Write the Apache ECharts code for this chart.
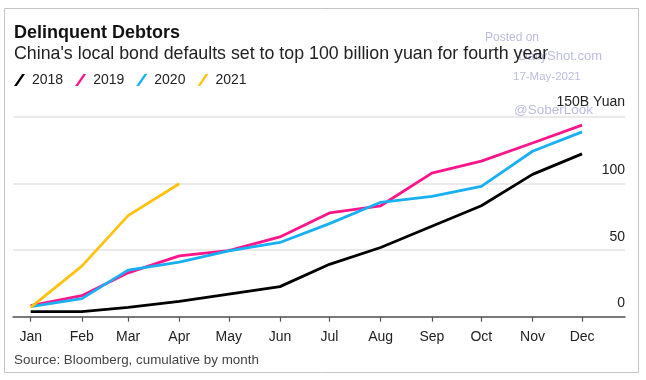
<!DOCTYPE html>
<html>
<head>
<meta charset="utf-8">
<script src="https://cdn.jsdelivr.net/npm/echarts@6/dist/echarts.min.js"></script>
<style>html,body{margin:0;padding:0;background:#fff;}#c{width:646px;height:380px;}</style>
</head>
<body>
<div id="c"></div>
<script>
const months = ['Jan','Feb','Mar','Apr','May','Jun','Jul','Aug','Sep','Oct','Nov','Dec'];
const s2018 = [3.8, 3.8, 7, 11.5, 17, 22.6, 39.4, 52, 68, 83.4, 107, 122.4];
const s2019 = [8.3, 15.8, 33, 45.7, 49.7, 60, 78, 83.4, 108, 117, 130.6, 144];
const s2020 = [7.5, 13.6, 35, 41, 49.5, 55.8, 70, 86, 90.5, 98, 124.4, 139];
const s2021 = [7, 38, 76, 100];
const yTicks = [0, 50, 100, 150];
const seriesNames = ['2018', '2019', '2020', '2021'];
const colors = ['#000000', '#ff158b', '#18b0f5', '#ffc20e'];

// day offsets of the first of each month (time scale positions)
const monthOffsets = months.map((m, i) => (Date.UTC(2021, i, 1) - Date.UTC(2021, 0, 1)) / 86400000);
const toPoints = vals => vals.map((v, i) => [monthOffsets[i], v]);

const chart = echarts.init(document.getElementById('c'));
const font = 'Liberation Sans, Arial, sans-serif';
const wm = 'rgba(150,150,210,0.65)';

chart.setOption({
  animation: false,
  textStyle: { fontFamily: font },
  color: colors,
  graphic: [
    { type: 'rect', z: 0, shape: { x: 4.5, y: 8.5, width: 634, height: 364 }, style: { fill: 'none', stroke: '#c4c4c4', lineWidth: 1 } },
    { type: 'text', z: 0, style: { x: 485, y: 38, text: 'Posted on', fill: wm, font: '12px ' + font, verticalAlign: 'middle' } },
    { type: 'text', z: 0, style: { x: 602, y: 56, text: 'DailyShot.com', fill: wm, font: '13px ' + font, align: 'right', verticalAlign: 'middle' } },
    { type: 'text', z: 0, style: { x: 513, y: 77, text: '17-May-2021', fill: wm, font: '11.5px ' + font, verticalAlign: 'middle' } },
    { type: 'text', z: 0, style: { x: 514, y: 110, text: '@SoberLook', fill: wm, font: '13.5px ' + font, verticalAlign: 'middle' } },
    { type: 'text', z: 10, style: { x: 14, y: 33, text: 'Delinquent Debtors', fill: '#111', font: 'bold 18px ' + font, verticalAlign: 'middle' } },
    { type: 'text', z: 10, style: { x: 14, y: 54, text: "China's local bond defaults set to top 100 billion yuan for fourth year", fill: '#222', font: '17.8px ' + font, verticalAlign: 'middle' } },
    { type: 'text', z: 10, style: { x: 14, y: 360, text: 'Source: Bloomberg, cumulative by month', fill: '#444', font: '13.4px ' + font, verticalAlign: 'middle' } }
  ],
  legend: {
    left: 14,
    top: 73,
    padding: 0,
    itemWidth: 11,
    itemHeight: 12,
    itemGap: 12,
    icon: 'path://M0,12 L2.8,12 L11,0 L8.2,0 Z',
    data: seriesNames,
    textStyle: { fontSize: 14, color: '#222', padding: [0, 0, 0, 2], fontFamily: font }
  },
  grid: { left: 13, right: 21, top: 117.2, height: 199.5 },
  xAxis: {
    type: 'value',
    min: -10.7,
    max: 360,
    axisLine: { show: true, lineStyle: { color: '#555', width: 1.5 } },
    axisTick: { show: true, customValues: monthOffsets, length: 5, lineStyle: { color: '#555', width: 1.2 } },
    axisLabel: {
      customValues: monthOffsets,
      margin: 13,
      fontSize: 14,
      color: '#222',
      formatter: v => months[monthOffsets.indexOf(Math.round(v))] || ''
    },
    splitLine: { show: false }
  },
  yAxis: {
    type: 'value',
    position: 'right',
    min: yTicks[0],
    max: yTicks[yTicks.length - 1],
    interval: 50,
    axisLine: { show: false },
    axisTick: { show: false },
    splitLine: { show: true, lineStyle: { color: '#e3e3e3', width: 1.5 } },
    axisLabel: {
      inside: true,
      margin: 0,
      verticalAlign: 'bottom',
      formatter: v => v === 150 ? '{t|150B Yuan}' : '{n|' + v + '}',
      rich: {
        n: { fontSize: 14, color: '#222', lineHeight: 27, fontFamily: font },
        t: { fontSize: 14, color: '#222', lineHeight: 31, fontFamily: font }
      }
    }
  },
  series: [
    { name: seriesNames[0], type: 'line', data: toPoints(s2018), showSymbol: false, lineStyle: { width: 2.8 }, z: 3 },
    { name: seriesNames[1], type: 'line', data: toPoints(s2019), showSymbol: false, lineStyle: { width: 2.8 }, z: 3 },
    { name: seriesNames[2], type: 'line', data: toPoints(s2020), showSymbol: false, lineStyle: { width: 2.8 }, z: 4 },
    { name: seriesNames[3], type: 'line', data: toPoints(s2021), showSymbol: false, lineStyle: { width: 2.8 }, z: 5 }
  ]
});
</script>
</body>
</html>
